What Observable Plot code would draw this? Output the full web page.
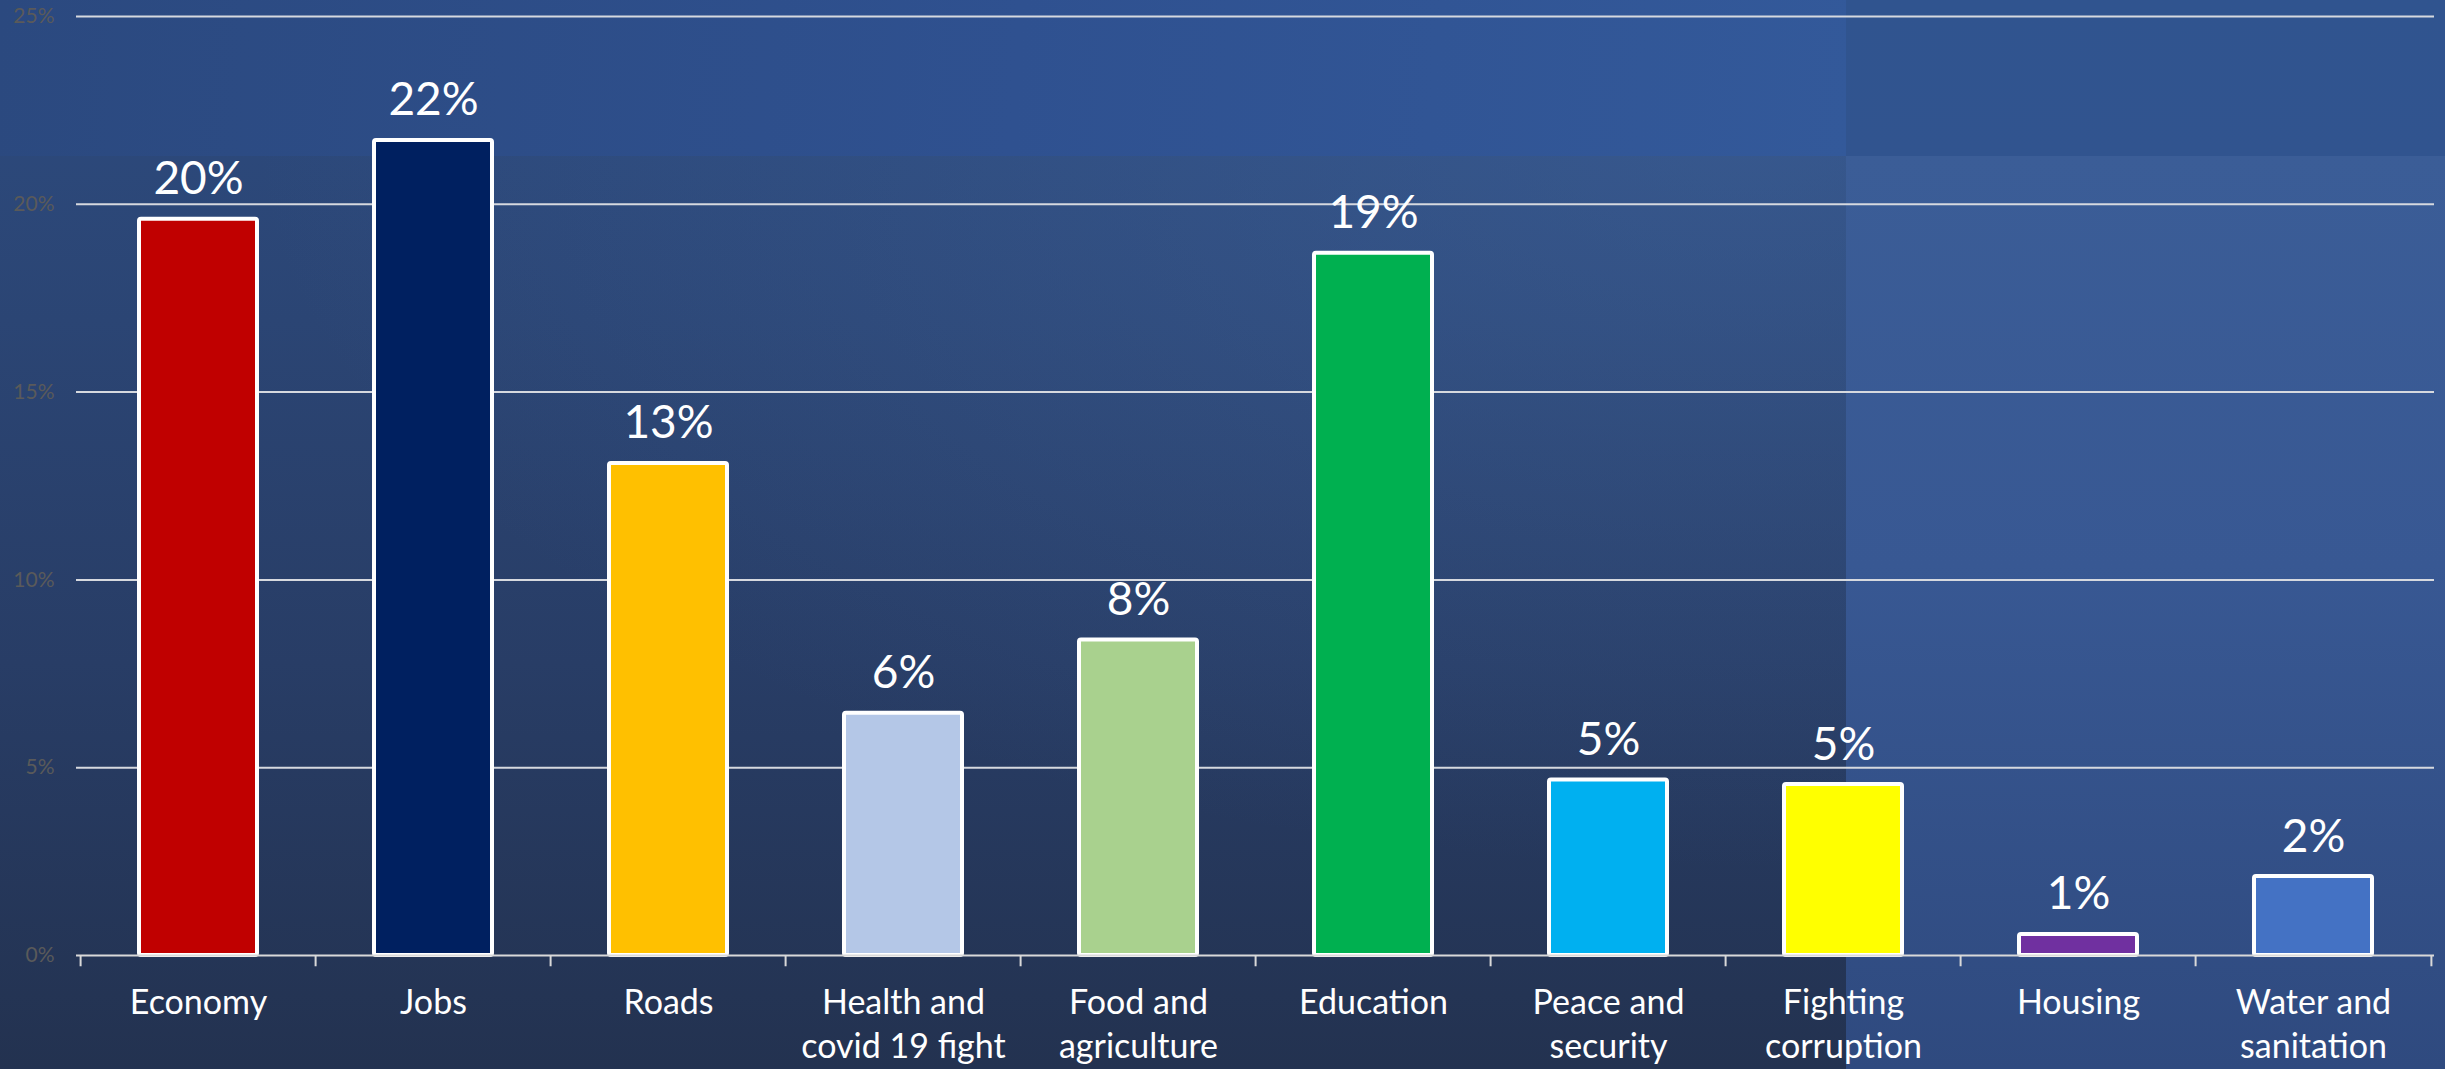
<!DOCTYPE html>
<html>
<head>
<meta charset="utf-8">
<script src="https://cdn.jsdelivr.net/npm/d3@7"></script>
<script src="https://cdn.jsdelivr.net/npm/@observablehq/plot@0.6"></script>
<style>
  html, body { margin: 0; padding: 0; background: #243452; }
  #wrap { position: relative; width: 2445px; height: 1069px; overflow: hidden;
    background: linear-gradient(to bottom, #2d4b7f 0%, #2b4574 30%, #283d66 62%, #233250 100%); }
  .layer { position: absolute; }
  #chart { position: absolute; left: 0; top: 0; }
</style>
</head>
<body>
<div id="wrap">
  <div class="layer" style="left:0;top:0;width:2445px;height:1069px;background:radial-gradient(ellipse 1500px 750px at 1750px 120px, rgba(72,112,172,0.40), rgba(72,112,172,0) 100%);"></div>
  <div class="layer" style="left:0;top:0;width:1846px;height:156px;background:linear-gradient(95deg,#2b497f 0%,#2f5190 55%,#33599a 100%);"></div>
  <div class="layer" style="left:1846px;top:0;width:599px;height:156px;background:linear-gradient(to bottom,#30548f,#31548f);"></div>
  <div class="layer" style="left:1846px;top:156px;width:599px;height:913px;background:linear-gradient(to bottom,#3b5d97 0%,#385893 45%,#2f4a7f 100%);"></div>
  <div id="chart"></div>
</div>
<script>
const categories = ["Economy", "Jobs", "Roads", "Health and\ncovid 19 fight", "Food and\nagriculture",
  "Education", "Peace and\nsecurity", "Fighting\ncorruption", "Housing", "Water and\nsanitation"];
const shares = [19.6, 21.7, 13.1, 6.45, 8.4, 18.7, 4.67, 4.55, 0.56, 2.1];
const barColors = ["#C00000", "#002060", "#FFC000", "#B4C7E7", "#A9D18E",
  "#00B050", "#00B0F0", "#FFFF00", "#7030A0", "#4472C4"];
const yTicks = [0, 5, 10, 15, 20, 25];

const data = categories.map((c, i) => ({category: c, share: shares[i], color: barColors[i]}));

const W = 2445, H = 1069, mL = 76, mR = 11, mT = 16, mB = 114;
const step = (W - mL - mR) / categories.length;

const chart = Plot.plot({
  width: W, height: H,
  marginLeft: mL, marginRight: mR, marginTop: mT, marginBottom: mB,
  style: {background: "transparent", fontFamily: "Lato, 'Open Sans', sans-serif", overflow: "visible"},
  x: {domain: categories, paddingInner: 0.5, paddingOuter: 0.25, axis: null},
  y: {domain: [0, 25], axis: null},
  color: {type: "identity"},
  marks: [
    Plot.ruleY(yTicks.filter(t => t > 0), {y: d => d, stroke: "#d6d9df", strokeWidth: 2}),
    Plot.text(yTicks, {y: d => d, text: d => d + "%", frameAnchor: "left", dx: -22, textAnchor: "end",
      fill: "#5a5a5a", fontSize: 21}),
    Plot.barY(data, {x: "category", y: "share", fill: "color", stroke: "white", strokeWidth: 4, rx: 2}),
    Plot.ruleY([0], {stroke: "#d9d9d9", strokeWidth: 2}),
    Plot.ruleX(categories, {x: d => d, dx: -step / 2, y1: 0, y2: -0.3, stroke: "#d9d9d9", strokeWidth: 2}),
    Plot.ruleX(categories.slice(-1), {x: d => d, dx: step / 2, y1: 0, y2: -0.3, stroke: "#d9d9d9", strokeWidth: 2}),
    Plot.text(data, {x: "category", y: "share", text: d => Math.round(d.share) + "%", dy: -25,
      lineAnchor: "bottom", fill: "white", fontSize: 46}),
    Plot.text(data, {x: "category", y: 0, text: "category", dy: 27, lineAnchor: "top",
      lineHeight: 1.3, fill: "white", fontSize: 34})
  ]
});
document.getElementById("chart").appendChild(chart);
</script>
</body>
</html>
